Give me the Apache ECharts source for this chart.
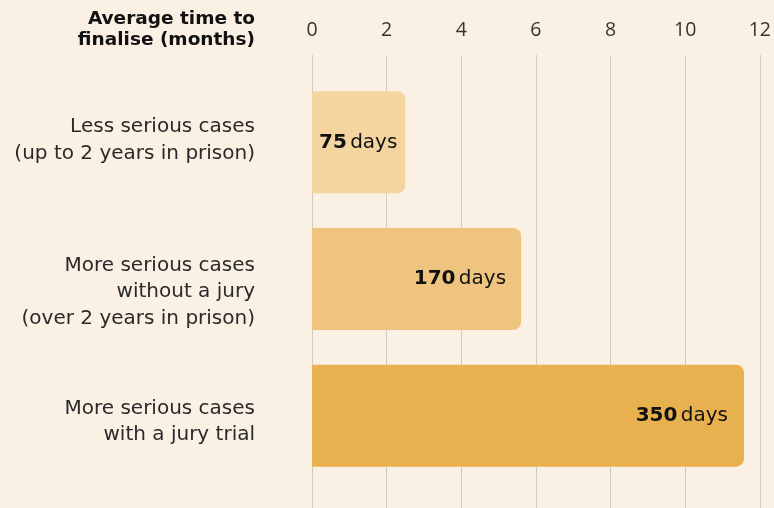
<!DOCTYPE html>
<html>
<head>
<meta charset="utf-8">
<script src="https://cdn.jsdelivr.net/npm/echarts@6/dist/echarts.min.js"></script>
<style>
  html, body { margin: 0; padding: 0; background: #faf0e3; }
  #chart { width: 774px; height: 508px; }
</style>
</head>
<body>
<div id="chart"></div>
<script>
// chart data
const categories = [
  ['Less serious cases', '(up to 2 years in prison)'],
  ['More serious cases', 'without a jury', '(over 2 years in prison)'],
  ['More serious cases', 'with a jury trial']
];
const months = [2.5, 5.6, 11.57];
const days = [75, 170, 350];
const barColors = ['#f4d5a0', '#efc47e', '#e9b04f'];
const labelDistance = [8, 15, 16];
const xTicks = [0, 2, 4, 6, 8, 10, 12];

const FONT = '"DejaVu Sans"';
const TICK_FONT = '"Open Sans"';

// spacer lines (px) above / below each label to nudge it like the original
const spaceTop = [0, 26, 12];
const spaceBottom = [4, 0, 0];

const chart = echarts.init(document.getElementById('chart'));

const labelRich = {
  t: { fontFamily: FONT, fontSize: 20, lineHeight: 26.5, color: '#2a2a2a', align: 'right' }
};
[...spaceTop, ...spaceBottom].forEach(h => {
  if (h) labelRich['s' + h] = { fontSize: 1, lineHeight: h, align: 'right' };
});

const option = {
  backgroundColor: '#faf0e3',
  animation: false,
  graphic: [
    {
      type: 'text',
      x: 255,
      y: 9,
      style: {
        text: 'Average time to\nfinalise (months)',
        align: 'right',
        fontFamily: FONT,
        fontSize: 18.5,
        fontWeight: 'bold',
        lineHeight: 21,
        fill: '#111'
      }
    }
  ],
  grid: [
    // bars
    { left: 312, right: 14, top: 74, bottom: 24 },
    // gridlines + axis labels
    { left: 312, right: 14, top: 55, bottom: 0 }
  ],
  xAxis: [
    {
      gridIndex: 0,
      type: 'value',
      min: 0,
      max: 12,
      interval: 2,
      show: false
    },
    {
      gridIndex: 1,
      type: 'value',
      position: 'top',
      min: xTicks[0],
      max: xTicks[xTicks.length - 1],
      interval: 2,
      axisLine: { show: false },
      axisTick: { show: false },
      axisLabel: {
        margin: 15,
        fontFamily: TICK_FONT,
        fontSize: 19.5,
        color: '#333'
      },
      splitLine: { lineStyle: { color: '#cfcac3', width: 1 } }
    }
  ],
  yAxis: [
    {
      gridIndex: 0,
      type: 'category',
      data: categories.map(c => c.join('\n')),
      inverse: true,
      axisLine: { show: false },
      axisTick: { show: false },
      axisLabel: {
        margin: 57,
        align: 'right',
        formatter: (v, i) => {
          const parts = categories[i].map(l => '{t|' + l + '}');
          if (spaceTop[i]) parts.unshift('{s' + spaceTop[i] + '| }');
          if (spaceBottom[i]) parts.push('{s' + spaceBottom[i] + '| }');
          return parts.join('\n');
        },
        rich: labelRich
      }
    },
    {
      gridIndex: 1,
      type: 'value',
      show: false
    }
  ],
  series: [
    {
      type: 'bar',
      xAxisIndex: 0,
      yAxisIndex: 0,
      barWidth: 102,
      data: months.map((m, i) => ({
        value: m,
        itemStyle: { color: barColors[i], borderRadius: [0, 8, 8, 0] },
        label: { distance: labelDistance[i] }
      })),
      label: {
        show: true,
        position: 'insideRight',
        formatter: p => '{b|' + days[p.dataIndex] + '} {n|days}',
        rich: {
          b: { fontFamily: FONT, fontSize: 20, fontWeight: 'bold', color: '#111' },
          n: { fontFamily: FONT, fontSize: 20, color: '#111' }
        }
      }
    }
  ]
};

chart.setOption(option);
</script>
</body>
</html>
